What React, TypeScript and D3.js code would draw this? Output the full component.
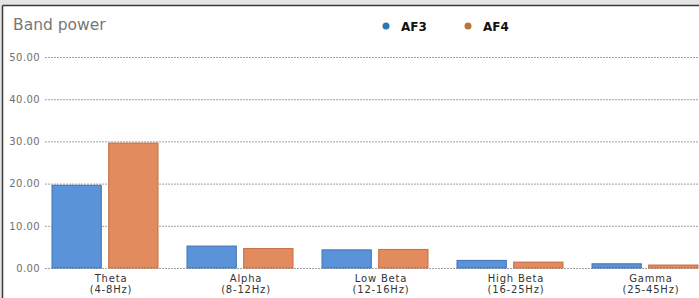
import * as d3 from "d3";
import { useEffect, useRef } from "react";

const categories = ["Theta", "Alpha", "Low Beta", "High Beta", "Gamma"];
const ranges = ["(4-8Hz)", "(8-12Hz)", "(12-16Hz)", "(16-25Hz)", "(25-45Hz)"];
const seriesNames = ["AF3", "AF4"];
const af3Values = [19.6, 5.2, 4.3, 1.8, 1.0];
const af4Values = [29.6, 4.6, 4.4, 1.4, 0.7];
const yTicks = [0, 10, 20, 30, 40, 50];

const WIDTH = 699;
const HEIGHT = 298;

function App() {
  const ref = useRef<SVGSVGElement | null>(null);

  useEffect(() => {
    document.body.style.margin = "0";
    document.body.style.overflow = "hidden";

    const svg = d3.select(ref.current);
    svg.selectAll("*").remove();

    // frame around the panel
    svg.append("rect").attr("width", WIDTH).attr("height", HEIGHT).attr("fill", "#e5e5e5");
    svg.append("rect").attr("x", 3).attr("y", 6).attr("width", WIDTH).attr("height", HEIGHT).attr("fill", "#fff");
    svg.append("line").attr("x1", 2.5).attr("x2", WIDTH + 5).attr("y1", 5.5).attr("y2", 5.5).attr("stroke", "#3a3a3a").attr("stroke-width", 1.5);
    svg.append("line").attr("x1", 2.5).attr("x2", 2.5).attr("y1", 5.5).attr("y2", HEIGHT).attr("stroke", "#3a3a3a").attr("stroke-width", 1.5);

    const font = "'DejaVu Sans', sans-serif";

    // title
    svg.append("text").attr("x", 13).attr("y", 30).text("Band power")
      .attr("font-family", font).attr("font-size", 15.5).attr("fill", "#777");

    // scales
    const x0 = d3.scaleBand<string>().domain(categories).range([37.5, 712.5])
      .paddingInner(0.215).paddingOuter(0.1075);
    const x1 = d3.scaleBand<string>().domain(seriesNames).range([0, x0.bandwidth()]).paddingInner(0.13);
    const y = d3.scaleLinear().domain([0, 50]).range([268, 57]);
    const color = d3.scaleOrdinal<string, string>().domain(seriesNames).range(["#5b93d8", "#e28b5f"]);
    const strokeColor = d3.scaleOrdinal<string, string>().domain(seriesNames).range(["#3f73b8", "#c46d42"]);
    const legendColor = d3.scaleOrdinal<string, string>().domain(seriesNames).range(["#2b78b5", "#b8763c"]);

    // grid lines and y labels
    const yAxis = svg.append("g").attr("transform", "translate(45,0)")
      .call(d3.axisLeft(y).tickValues(yTicks).tickSize(-(WIDTH - 45)).tickFormat(d3.format(".2f")));
    yAxis.select(".domain").remove();
    yAxis.selectAll(".tick line").attr("stroke", "#a0a0a0").attr("stroke-dasharray", "2,1");
    yAxis.selectAll(".tick text").attr("fill", "#707070").attr("font-size", 10)
      .attr("font-family", font).attr("letter-spacing", 0.4).attr("x", -5);

    // bars
    const rows = categories.map((c, i) => ({ cat: c, values: [af3Values[i], af4Values[i]] }));
    const groups = svg.selectAll(".group").data(rows).enter().append("g")
      .attr("transform", (d) => `translate(${x0(d.cat)},0)`);
    groups.selectAll("rect")
      .data((d) => d.values.map((v, j) => ({ key: seriesNames[j], value: v })))
      .enter().append("rect")
      .attr("x", (d) => x1(d.key)!)
      .attr("y", (d) => y(d.value))
      .attr("width", x1.bandwidth())
      .attr("height", (d) => y(0) - y(d.value))
      .attr("fill", (d) => color(d.key))
      .attr("stroke", (d) => strokeColor(d.key))
      .attr("stroke-width", 1);

    // category labels
    const labels = svg.selectAll(".xlabel").data(categories).enter().append("text")
      .attr("text-anchor", "middle")
      .attr("font-family", font).attr("font-size", 10).attr("letter-spacing", 0.8).attr("fill", "#333")
      .attr("transform", (d) => `translate(${x0(d)! + x0.bandwidth() / 2 + 6},282)`);
    labels.append("tspan").attr("x", 0).attr("dy", 0).text((d) => d);
    labels.append("tspan").attr("x", 0).attr("dy", 11).text((d, i) => ranges[i]);

    // legend
    const legendX = [386, 468];
    const legend = svg.selectAll(".legend").data(seriesNames).enter().append("g")
      .attr("transform", (d, i) => `translate(${legendX[i]},26)`);
    legend.append("circle").attr("r", 3.5).attr("fill", (d) => legendColor(d));
    legend.append("text").attr("x", 15).attr("y", 4.5).text((d) => d)
      .attr("font-family", font).attr("font-size", 12).attr("font-weight", "bold").attr("fill", "#111");
  }, []);

  return <svg ref={ref} width={WIDTH} height={HEIGHT} style={{ display: "block" }} />;
}

export default App;
